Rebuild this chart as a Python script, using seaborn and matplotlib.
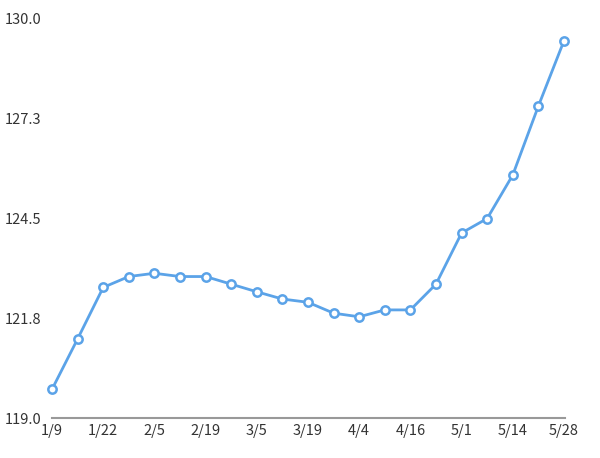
import matplotlib
matplotlib.use("Agg")
import matplotlib.pyplot as plt
import seaborn as sns
import pandas as pd

dates = ["1/9", "1/15", "1/22", "1/29", "2/5", "2/12", "2/19", "2/26", "3/5", "3/12",
         "3/19", "3/26", "4/4", "4/10", "4/16", "4/23", "5/1", "5/7", "5/14", "5/21", "5/28"]
values = [119.79, 121.18, 122.60, 122.90, 122.99, 122.90, 122.90, 122.69, 122.48, 122.28,
          122.19, 121.89, 121.79, 121.98, 121.98, 122.69, 124.10, 124.50, 125.70, 127.60, 129.40]
tick_labels = ["1/9", "1/22", "2/5", "2/19", "3/5", "3/19", "4/4", "4/16", "5/1", "5/14", "5/28"]
y_ticks = [119.0, 121.75, 124.5, 127.25, 130.0]
y_tick_labels = ["119.0", "121.8", "124.5", "127.3", "130.0"]

sns.set_theme(style="white")
plt.rcParams['font.family'] = ['Noto Sans CJK JP', 'DejaVu Sans']

df = pd.DataFrame({"idx": range(len(values)), "value": values})

fig = plt.figure(figsize=(6, 4.58), dpi=100)
ax = fig.add_axes([52/600, 1 - 418/458, (565 - 52)/600, (418 - 19)/458])

color = "#5ba3e8"
sns.lineplot(data=df, x="idx", y="value", ax=ax, color=color, linewidth=2.0,
             marker="o", markersize=6, markerfacecolor="white",
             markeredgecolor=color, markeredgewidth=1.8, clip_on=False)

ax.set_xlim(0, 20.04)
ax.set_ylim(119.0, 130.0)
ax.set_xticks(range(0, len(values), 2))
ax.set_xticklabels(tick_labels)
ax.set_yticks(y_ticks)
ax.set_yticklabels(y_tick_labels)
ax.set_xlabel("")
ax.set_ylabel("")
ax.tick_params(axis="both", length=0, labelsize=10.5, colors="#333333")
ax.tick_params(axis="x", pad=4)
ax.tick_params(axis="y", pad=34)
for lbl in ax.get_yticklabels():
    lbl.set_horizontalalignment("left")
for s in ["top", "right", "left"]:
    ax.spines[s].set_visible(False)
ax.spines["bottom"].set_color("#999999")
ax.spines["bottom"].set_linewidth(1.5)
ax.grid(False)

fig.savefig("out.png", dpi=100)
